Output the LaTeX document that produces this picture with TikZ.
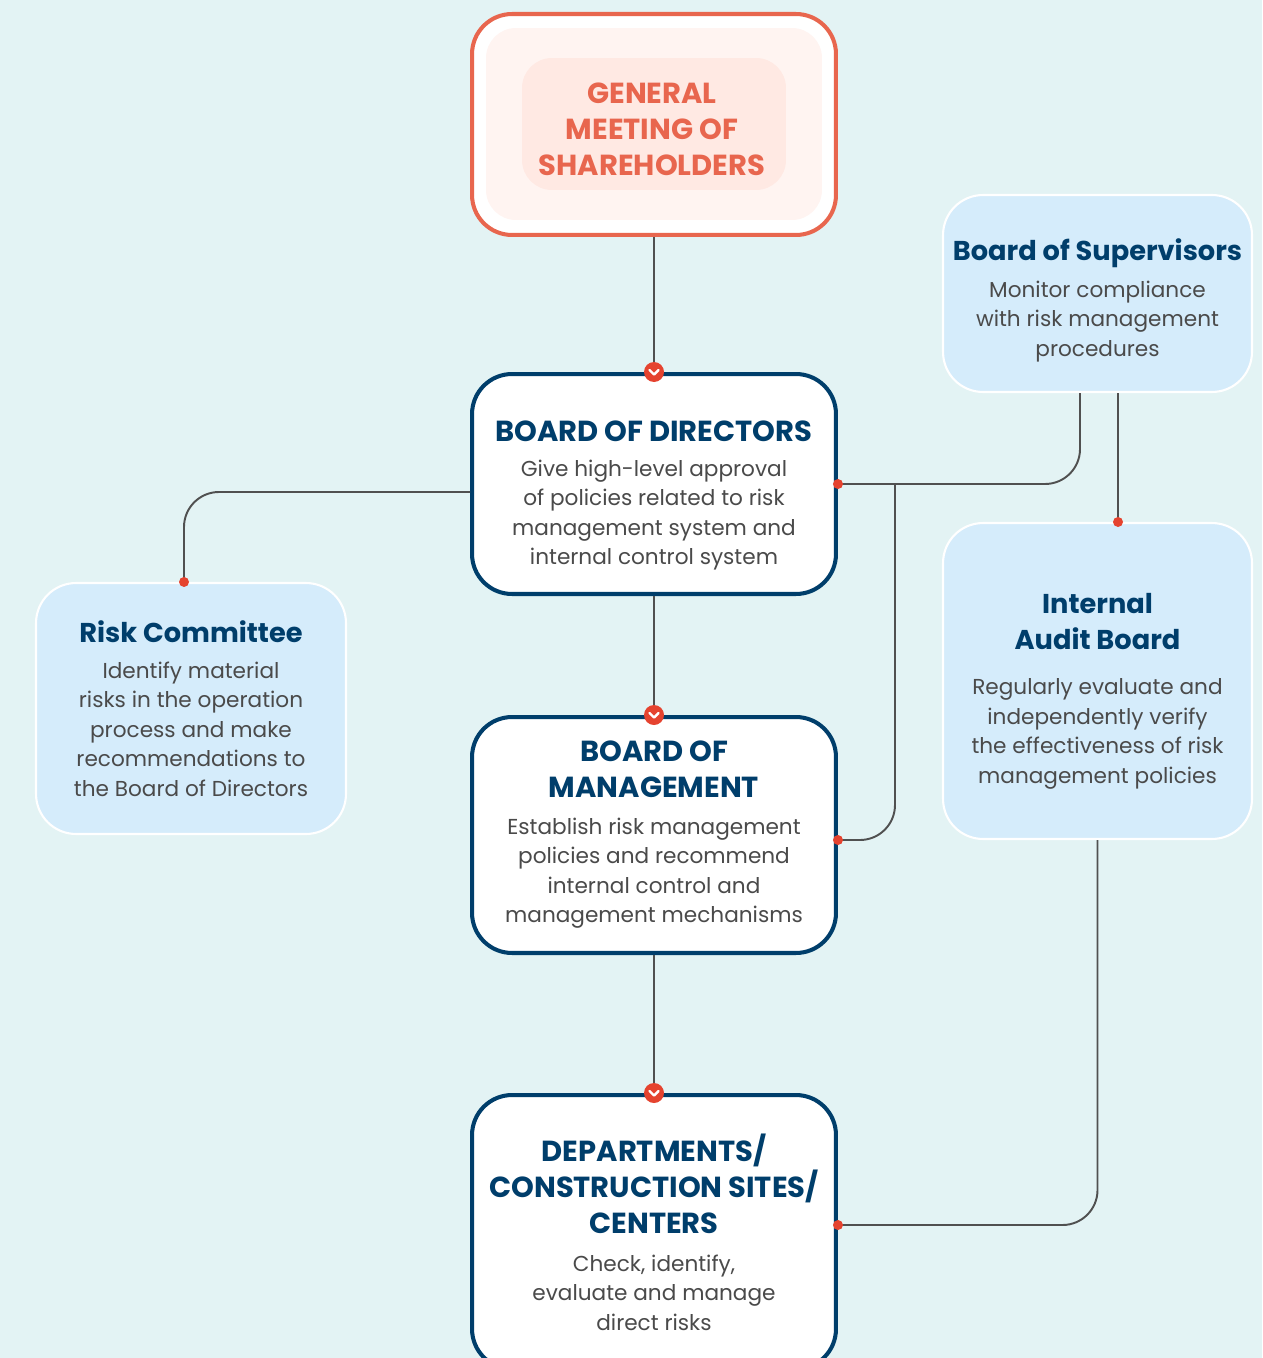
\documentclass[tikz,border=0pt]{standalone}
\usepackage{fontspec}
\setmainfont{Poppins}
\usetikzlibrary{calc}
\definecolor{bgcol}{HTML}{E3F3F4}
\definecolor{navy}{HTML}{003E6B}
\definecolor{orangec}{HTML}{E8664E}
\definecolor{pinkA}{HTML}{FFF4F1}
\definecolor{pinkB}{HTML}{FFE9E3}
\definecolor{lightblue}{HTML}{D5ECFB}
\definecolor{dotred}{HTML}{E5432F}
\definecolor{linegray}{HTML}{505050}
\definecolor{textgray}{HTML}{4A4A4A}
\tikzset{
  mainbox/.style={draw=navy,line width=2.3pt,fill=white,rounded corners=0.8cm,
    minimum width=7.28cm,text width=6.9cm,align=center,inner sep=0pt},
  sidebox/.style={draw=white,line width=1.2pt,fill=lightblue,rounded corners=0.8cm,
    minimum width=6.18cm,text width=6cm,align=center,inner sep=0pt},
  conn/.style={draw=linegray,line width=1.1pt,rounded corners=0.7cm},
}
\newcommand\headtxt[2][3pt]{{\fontsize{16.5}{20.5}\selectfont\bfseries\color{navy}#2\par}\vspace{#1}}
\newcommand\sidehead[2][3pt]{{\fontsize{15.5}{20.5}\selectfont\bfseries\color{navy}#2\par}\vspace{#1}}
\newcommand\bodytxt[1]{{\fontsize{12.3}{16.8}\selectfont\color{textgray}#1\par}}
\newcommand\padtop[1]{\rule{0pt}{#1}}
\begin{document}
\begin{tikzpicture}[x=0.02cm,y=-0.02cm]
\fill[bgcol] (0,0) rectangle (1262,1358);
\useasboundingbox (0,0) rectangle (1262,1358);
% top box
\node[draw=orangec,line width=2.3pt,fill=white,rounded corners=0.8cm,
  minimum width=7.28cm,minimum height=4.42cm] (gms) at (654,124.5) {};
\node[fill=pinkA,rounded corners=0.6cm,minimum width=6.72cm,minimum height=3.84cm] (gmsmid) at (654,124) {};
\node[fill=pinkB,rounded corners=0.6cm,minimum width=5.28cm,minimum height=2.64cm] (gmsin) at (654,124) {};
\node[align=center,text=orangec,font=\fontsize{16.5}{20.5}\selectfont\bfseries] (gmstxt) at (652,129)
  {GENERAL\\MEETING OF\\SHAREHOLDERS};
% main chain
\node[mainbox,minimum height=4.4cm] (bod) at (654,484)
  {\headtxt{\padtop{25pt}BOARD OF DIRECTORS}\bodytxt{Give high-level approval\\of policies related to risk\\management system and\\internal control system}};
\node[mainbox,minimum height=4.72cm] (bom) at (654,835)
  {\headtxt[4pt]{BOARD OF\\MANAGEMENT}\bodytxt{Establish risk management\\policies and recommend\\internal control and\\management mechanisms}};
\node[mainbox,minimum height=5.48cm] (dept) at (654,1232)
  {\headtxt[5pt]{DEPARTMENTS/\\CONSTRUCTION SITES/\\CENTERS}\bodytxt{Check, identify,\\evaluate and manage\\direct risks}};
% side boxes
\node[sidebox,minimum width=6.2cm,minimum height=5.02cm] (risk) at (191,708.5)
  {\sidehead[3.5pt]{Risk Committee}\bodytxt{Identify material\\risks in the operation\\process and make\\recommendations to\\the Board of Directors}};
\node[sidebox,minimum height=3.94cm] (sup) at (1097.5,293.5)
  {\sidehead[4pt]{\padtop{20.5pt}Board of Supervisors}\bodytxt{Monitor compliance\\with risk management\\procedures}};
\node[sidebox,minimum height=6.32cm] (audit) at (1097.5,681)
  {\sidehead[9pt]{\padtop{23pt}Internal\\Audit Board}\bodytxt{Regularly evaluate and\\independently verify\\the effectiveness of risk\\management policies}};
% connector ends
\coordinate (riskin) at ([xshift=-0.14cm]risk.north);
\coordinate (bodout) at ([yshift=-0.16cm]bod.west);
\coordinate (supl) at ([xshift=-0.35cm]sup.south);
\coordinate (supr) at ([xshift=0.41cm]sup.south);
\coordinate (auditin) at ([xshift=0.41cm]audit.north);
\coordinate (split) at ($(bod.east)+(57,0)$);
\coordinate (bomin) at ([yshift=-0.1cm]bom.east);
\coordinate (deptin) at ([yshift=0.14cm]dept.east);
% connectors
\draw[conn] (gms.south) -- (bod.north);
\draw[conn] (bod.south) -- (bom.north);
\draw[conn] (bom.south) -- (dept.north);
\draw[conn] (bodout) -| (riskin);
\draw[conn] (supl) |- (bod.east);
\draw[conn] (split) |- (bomin);
\draw[conn] (supr) -- (auditin);
\draw[conn] (audit.south) |- (deptin);
\foreach \p in {riskin,bod.east,bomin,deptin,auditin}
	\fill[dotred] (\p) circle (0.1cm);
\foreach \n in {bod,bom,dept}{
	\fill[dotred] (\n.north) circle (0.2cm);
	\draw[white,line width=1.4pt,line cap=round,line join=round]
	  ($(\n.north)+(-4.5,-2)$) -- ++(4.5,4.5) -- ++(4.5,-4.5);
}
\end{tikzpicture}
\end{document}
